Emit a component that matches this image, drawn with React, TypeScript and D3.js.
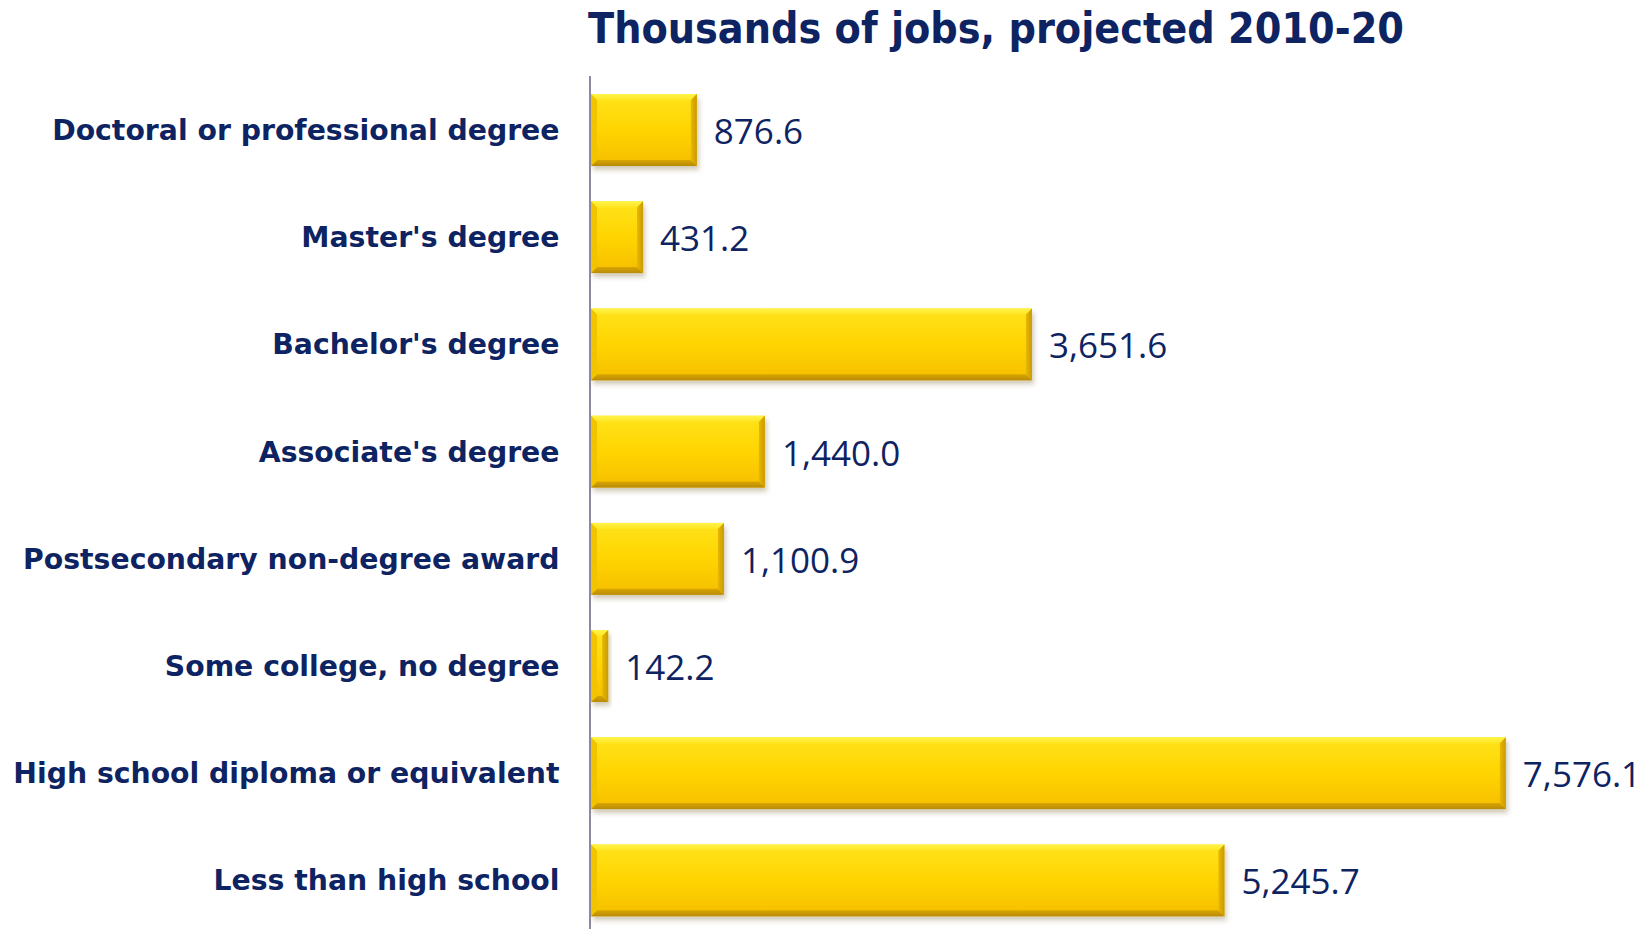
import React from "react";
import * as d3 from "d3";

const categories: string[] = [
  "Doctoral or professional degree",
  "Master's degree",
  "Bachelor's degree",
  "Associate's degree",
  "Postsecondary non-degree award",
  "Some college, no degree",
  "High school diploma or equivalent",
  "Less than high school",
];
const values: number[] = [876.6, 431.2, 3651.6, 1440.0, 1100.9, 142.2, 7576.1, 5245.7];
const titleText = "Thousands of jobs, projected 2010-20";

const W = 1652;
const H = 929;
const NAVY = "#0E2362";

export default function App() {
  const x = d3.scaleLinear().domain([0, 8000]).range([591, 1557]);
  const y = d3.scaleBand<string>().domain(categories).range([76.4, 934]).paddingInner(0.33).paddingOuter(0.165);
  const fmt = d3.format(",.1f");
  const bw = y.bandwidth();
  const bev = 6;

  return (
    <svg width={W} height={H} style={{ position: "fixed", left: 0, top: 0, background: "#fff" }}>
      <defs>
        <linearGradient id="barFill" x1="0" y1="0" x2="0" y2="1">
          <stop offset="0" stopColor="#FFE41C" />
          <stop offset="0.5" stopColor="#FFD400" />
          <stop offset="1" stopColor="#F5BE00" />
        </linearGradient>
        <linearGradient id="topBev" x1="0" y1="0" x2="0" y2="1">
          <stop offset="0" stopColor="#FFF44A" />
          <stop offset="1" stopColor="#FFE622" />
        </linearGradient>
        <linearGradient id="botBev" x1="0" y1="0" x2="0" y2="1">
          <stop offset="0" stopColor="#D9A600" />
          <stop offset="1" stopColor="#B88A08" />
        </linearGradient>
        <linearGradient id="rightBev" x1="0" y1="0" x2="1" y2="0">
          <stop offset="0" stopColor="#E8B800" />
          <stop offset="1" stopColor="#C99A05" />
        </linearGradient>
        <filter id="shadow" x="-10%" y="-20%" width="120%" height="150%">
          <feGaussianBlur stdDeviation="2.5" />
        </filter>
      </defs>
      <text
        x={588}
        y={43}
        fontFamily="'DejaVu Sans Condensed', 'DejaVu Sans', sans-serif"
        fontWeight="bold"
        fontSize={42.6}
        fill={NAVY}
      >
        {titleText}
      </text>
      <line x1={590} x2={590} y1={76} y2={H} stroke="#8A8AA0" strokeWidth={2} />
      {categories.map((c, i) => {
        const y0 = y(c) as number;
        const x0 = x(0);
        const x1 = x(values[i]);
        const w = x1 - x0;
        const b = Math.min(bev, w / 2);
        return (
          <g key={c}>
            <rect x={x0 + 2} y={y0 + 4} width={w} height={bw} fill="#9a8a60" opacity={0.45} filter="url(#shadow)" />
            <rect x={x0} y={y0} width={w} height={bw} fill="url(#barFill)" />
            <polygon
              points={`${x0},${y0} ${x1},${y0} ${x1 - b},${y0 + b} ${x0 + b},${y0 + b}`}
              fill="url(#topBev)"
            />
            <polygon
              points={`${x0},${y0 + bw} ${x1},${y0 + bw} ${x1 - b},${y0 + bw - b} ${x0 + b},${y0 + bw - b}`}
              fill="url(#botBev)"
            />
            <polygon
              points={`${x1},${y0} ${x1},${y0 + bw} ${x1 - b},${y0 + bw - b} ${x1 - b},${y0 + b}`}
              fill="url(#rightBev)"
            />
            <polygon
              points={`${x0},${y0} ${x0},${y0 + bw} ${x0 + b},${y0 + bw - b} ${x0 + b},${y0 + b}`}
              fill="#F2C400"
            />
            <text
              x={559.5}
              y={y0 + bw / 2 + 10}
              textAnchor="end"
              fontFamily="'DejaVu Sans', sans-serif"
              fontWeight="bold"
              fontSize={28.3}
              fill={NAVY}
            >
              {c}
            </text>
            <text
              x={x1 + 17}
              y={y0 + bw / 2 + 14}
              fontFamily="'Open Sans', sans-serif"
              fontSize={35}
              fill={NAVY}
            >
              {fmt(values[i])}
            </text>
          </g>
        );
      })}
    </svg>
  );
}
